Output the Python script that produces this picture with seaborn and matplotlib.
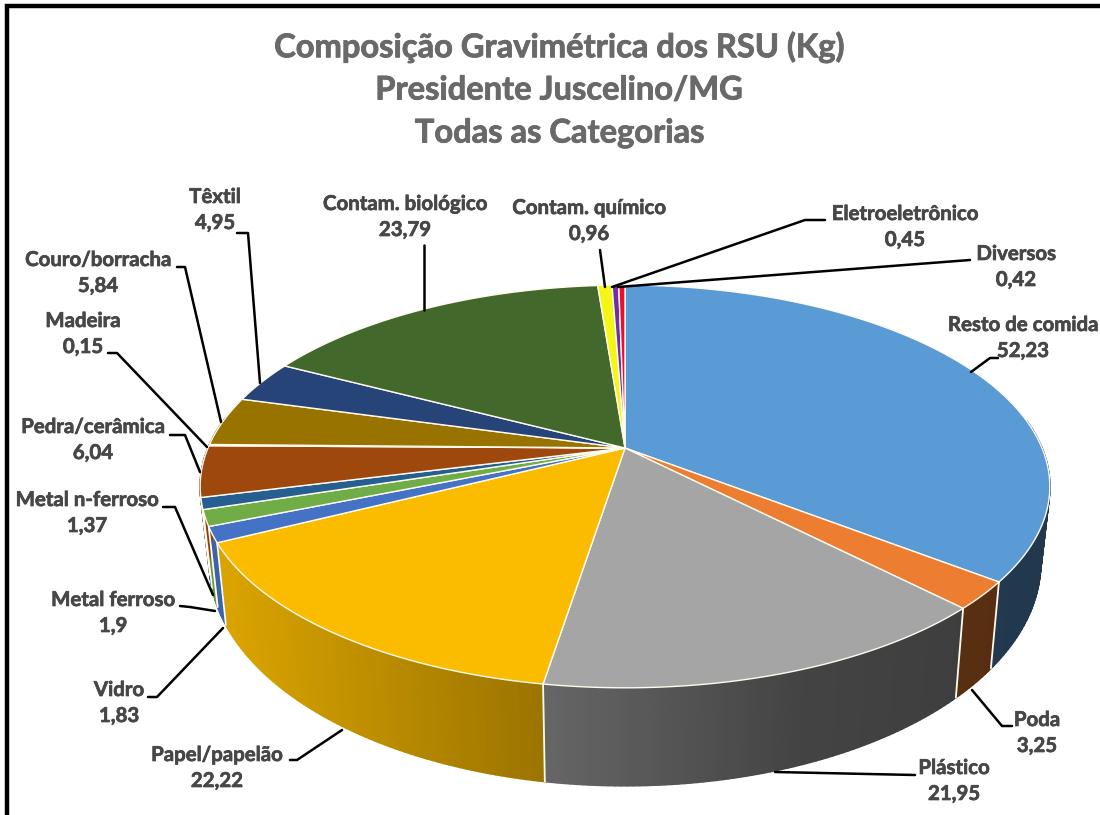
import numpy as np
import matplotlib
matplotlib.use("Agg")
import matplotlib.pyplot as plt
import matplotlib.patheffects as pe
from matplotlib.collections import PolyCollection
import seaborn as sns

# ---- data ----
categories = ["Resto de comida", "Poda", "Plástico", "Papel/papelão", "Vidro", "Metal ferroso",
              "Metal n-ferroso", "Pedra/cerâmica", "Madeira", "Couro/borracha", "Têxtil",
              "Contam. biológico", "Contam. químico", "Eletroeletrônico", "Diversos"]
values = [52.23, 3.25, 21.95, 22.22, 1.83, 1.9, 1.37, 6.04, 0.15, 5.84, 4.95, 23.79, 0.96, 0.45, 0.42]
value_labels = ["52,23", "3,25", "21,95", "22,22", "1,83", "1,9", "1,37", "6,04", "0,15", "5,84",
                "4,95", "23,79", "0,96", "0,45", "0,42"]
title_lines = ["Composição Gravimétrica dos RSU (Kg)", "Presidente Juscelino/MG", "Todas as Categorias"]

# ---- styles and layout ----
colors = ["#5B9BD5", "#ED7D31", "#A5A5A5", "#FBBC00", "#4472C4", "#70AD47", "#255E91", "#9E480E",
          "#636363", "#997300", "#264478", "#43682B", "#F5F516", "#7030A0", "#E8112D"]
label_pos = [(1023, 325), (1037, 720), (954, 768), (217, 755), (119, 690), (113, 600), (87, 500),
             (93, 427), (83, 321), (98, 260), (215, 197), (405, 204), (589, 208), (905, 214), (1016, 254)]
leaders = [[(971, 372), (990, 358), (998, 358)],
           [(972, 690), (1002, 726), (1012, 726)],
           [(775, 772), (915, 775)],
           [(342, 730), (297, 760), (290, 760)],
           [(223, 628), (157, 697), (148, 697)],
           [(215, 611), (190, 607), (180, 606)],
           [(213, 595), (175, 507), (163, 507)],
           [(200, 472), (185, 435), (170, 435)],
           [(207, 447), (117, 353), (108, 353)],
           [(221, 422), (185, 267), (177, 267)],
           [(260, 383), (248, 233), (237, 233)],
           [(424, 310), (424, 245)],
           [(605, 287), (600, 250)],
           [(612, 287), (805, 220), (825, 220)],
           [(618, 287), (970, 260)]]

sns.set_theme(style="white")
plt.rcParams["font.family"] = ["Lato", "DejaVu Sans"]
palette = sns.color_palette(colors)

fig = plt.figure(figsize=(11, 8.15), dpi=100, facecolor="white")
ax = fig.add_axes([0, 0, 1, 1])
ax.set_xlim(0, 1100)
ax.set_ylim(815, 0)
ax.axis("off")

# perspective projection of the disc
CX, K = 625, 0.191
TOP = dict(cy=448, rx=417, ry=194)
BOT = dict(cy=520, rx=408, ry=215)


def project(theta, p):
    den = 1 + K * np.sin(theta)
    return CX + p["rx"] * np.cos(theta) / den, p["cy"] - p["ry"] * np.sin(theta) / den


def shade(color, x):
    f = np.interp(x, [220, 540, 800, 1050], [0.87, 0.62, 0.41, 0.36])
    return tuple(c * f for c in color)


edges = np.pi / 2 - 2 * np.pi * np.cumsum([0] + values) / np.sum(values)
EDGE = "#FFFBEF"

# extruded side, back slices skipped
verts, faces = [], []
for a0, a1, col in zip(edges[:-1], edges[1:], palette):
    n = max(2, int((a0 - a1) * 80))
    t = np.linspace(a0, a1, n + 1)
    xt, yt = project(t, TOP)
    xb, yb = project(t, BOT)
    for i in range(n):
        if np.sin(t[i]) > 0.15:
            continue
        verts.append([(xt[i], yt[i]), (xt[i + 1], yt[i + 1]), (xb[i + 1], yb[i + 1]), (xb[i], yb[i])])
        faces.append(shade(col, 0.5 * (xt[i] + xt[i + 1])))
ax.add_collection(PolyCollection(verts, facecolors=faces, edgecolors=faces, linewidths=1.2, zorder=1))

for a in edges[:-1]:
    if np.sin(a) < -0.1:
        xt, yt = project(a, TOP)
        xb, yb = project(a, BOT)
        ax.plot([xt, xb], [yt, yb], color=EDGE, lw=1.3, zorder=2, solid_capstyle="round")

# top face
cy0 = TOP["cy"]
for a0, a1, col in zip(edges[:-1], edges[1:], palette):
    t = np.linspace(a0, a1, max(3, int((a0 - a1) * 120)))
    x, y = project(t, TOP)
    ax.fill(np.r_[CX, x], np.r_[cy0, y], facecolor=col, edgecolor=EDGE, lw=1.0, zorder=3, joinstyle="round")

# leader lines
for pts in leaders:
    xs, ys = zip(*pts)
    ax.plot(xs, ys, color="black", lw=1.8, zorder=4, solid_joinstyle="round")

# labels
LABEL = "#474747"
heavy = [pe.withStroke(linewidth=0.5, foreground=LABEL)]
for name, val, (x, y) in zip(categories, value_labels, label_pos):
    for s, yy in ((name, y), (val, y + 26)):
        ax.text(x, yy, s, ha="center", va="center", fontsize=14.7, fontweight="bold", color=LABEL,
                zorder=5, path_effects=heavy)

# title
TITLE = "#696969"
for line, y in zip(title_lines, [47, 90, 133]):
    ax.text(559, y, line, ha="center", va="center", fontsize=23.5, fontweight="bold", color=TITLE,
            path_effects=[pe.withStroke(linewidth=0.6, foreground=TITLE)])

# picture frame
ax.plot([7, 7, 1100], [815, 6, 6], color="black", lw=3.2, zorder=6, solid_joinstyle="miter")

fig.savefig("out.png", dpi=100)
